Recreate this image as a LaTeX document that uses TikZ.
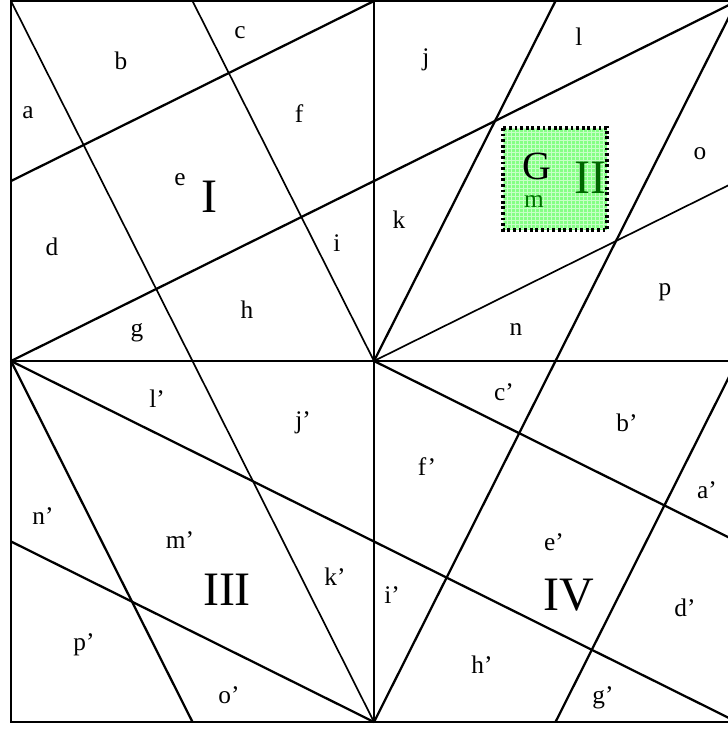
\documentclass[tikz,border=0pt]{standalone}
\usepackage{fontspec}
\setmainfont{Liberation Serif}
\begin{document}
\begin{tikzpicture}[x=0.75pt,y=-0.75pt,
  thk/.style={line width=1.7pt},
  thn/.style={line width=1.25pt},
  lbl/.style={font=\fontsize{19}{22}\selectfont, inner sep=0pt},
  rom/.style={font=\fontsize{36}{40}\selectfont, inner sep=0pt}]
\useasboundingbox (0,0) rectangle (728,729);
\clip (0,0) rectangle (728,729);
% grid coordinates
\foreach \i/\xx in {0/11,1/192.5,2/374,3/555.5,4/737}{
  \foreach \j/\yy in {0/1,1/181,2/361,3/541.5,4/722}{
    \coordinate (c\i\j) at (\xx,\yy);
  }
}
% green box
\coordinate (gb1) at (503,128);
\coordinate (gb2) at (607,230);
\fill[green!48] (gb1) rectangle (gb2);
\begin{scope}
\clip (gb1) rectangle (gb2);
\foreach \k in {0,...,26}{
  \draw[green!22, line width=0.35pt] (503+4*\k,128) -- (503+4*\k,230);
  \draw[green!22, line width=0.35pt] (503,128+4*\k) -- (607,128+4*\k);
}
\end{scope}
\draw[line width=2.4pt, dash pattern=on 2.1pt off 2.1pt] (gb1) rectangle (gb2);
% quadrant I
\draw[thn] (c00) -- (c12);
\draw[thn] (c10) -- (c22);
\draw[thk] (c01) -- (c20);
\draw[thk] (c02) -- (c21);
% quadrant II
\draw[thk] (c22) -- (c30);
\draw[thn] (c22) -- (c41);
\draw[thk] (c21) -- (c40);
\draw[thk] (c40) -- (c32);
% quadrant III
\draw[thk] (c02) -- (c14);
\draw[thk] (c02) -- (c23);
\draw[thn] (c12) -- (c24);
\draw[thk] (c03) -- (c24);
% quadrant IV
\draw[thk] (c22) -- (c43);
\draw[thk] (c23) -- (c44);
\draw[thk] (c24) -- (c32);
\draw[thk] (c34) -- (c42);
% border and cross
\draw[line width=1.8pt] (c00) rectangle (c44);
\draw[line width=1.8pt] (c02) -- (c42);
\draw[line width=1.8pt] (c20) -- (c24);
% labels quadrant I
\node[lbl] (la) at (28,113) {a};
\node[lbl] (lb) at (121,61) {b};
\node[lbl] (lc) at (240,33) {c};
\node[lbl] (ld) at (52,247) {d};
\node[lbl] (le) at (180,180) {e};
\node[lbl] (lf) at (299,114) {f};
\node[lbl] (lg) at (137,333) {g};
\node[lbl] (lh) at (247,310) {h};
\node[lbl] (li) at (337,243) {i};
\node[rom] (rI) at (209,197) {I};
% labels quadrant II
\node[lbl] (lj) at (426,60) {j};
\node[lbl] (lk) at (399,220) {k};
\node[lbl] (ll) at (579,37) {l};
\node[font=\fontsize{30}{34}\selectfont, inner sep=0pt] (lG) at (537,166) {G};
\node[lbl, text=green!45!black] (lm) at (534,202) {m};
\node[rom, text=green!40!black] (rII) at (590,178) {II};
\node[lbl] (lo) at (700,154) {o};
\node[lbl] (ln) at (516,330) {n};
\node[lbl] (lp) at (665,292) {p};
% labels quadrant III
\node[lbl] (llp) at (157,399) {l’};
\node[lbl] (ljp) at (303,423) {j’};
\node[lbl] (lnp) at (43,516) {n’};
\node[lbl] (lmp) at (180,540) {m’};
\node[rom] (rIII) at (227,590) {III};
\node[lbl] (lkp) at (335,577) {k’};
\node[lbl] (lpp) at (84,645) {p’};
\node[lbl] (lop) at (229,695) {o’};
% labels quadrant IV
\node[lbl] (lcp) at (504,392) {c’};
\node[lbl] (lbp) at (627,423) {b’};
\node[lbl] (lfp) at (427,467) {f’};
\node[lbl] (lap) at (707,490) {a’};
\node[lbl] (lep) at (554,542) {e’};
\node[rom] (rIV) at (569,595) {IV};
\node[lbl] (lip) at (392,595) {i’};
\node[lbl] (ldp) at (685,608) {d’};
\node[lbl] (lhp) at (482,665) {h’};
\node[lbl] (lgp) at (603,698) {g’};
\end{tikzpicture}
\end{document}
